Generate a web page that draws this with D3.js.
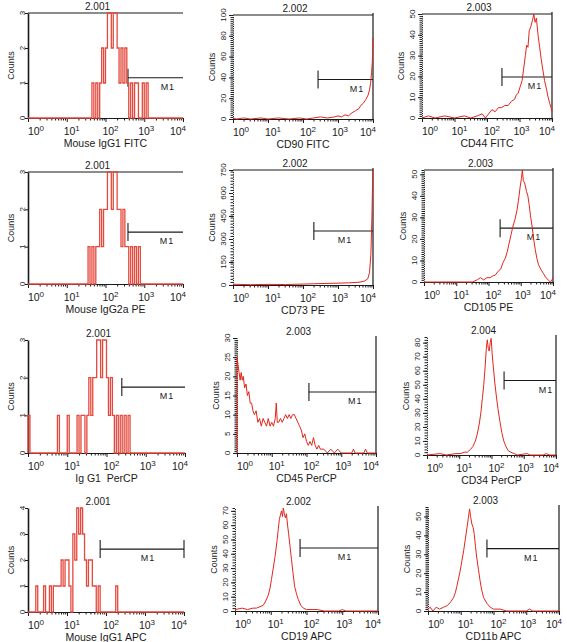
<!DOCTYPE html>
<html>
<head>
<meta charset="utf-8">
<script src="https://cdn.jsdelivr.net/npm/d3@7"></script>
<style>
  body { margin: 0; background: #fff; }
  text { font-family: "Liberation Sans", Arial, sans-serif; fill: #1a1a1a; }
</style>
</head>
<body>
<div id="chart"></div>
<script>
// panel texts (row by row)
var titles = ["2.001", "2.002", "2.003", "2.001", "2.002", "2.003",
              "2.001", "2.003", "2.004", "2.001", "2.002", "2.003"];
var xLabels = ["Mouse IgG1 FITC", "CD90 FITC", "CD44 FITC",
               "Mouse IgG2a PE", "CD73 PE", "CD105 PE",
               "Ig G1  PerCP", "CD45 PerCP", "CD34 PerCP",
               "Mouse IgG1 APC", "CD19 APC", "CD11b APC"];
var decadeLabels = ["0", "1", "2", "3", "4"];

// y axis: top of the scale, last labelled tick, step between labels
var yMax  = [3, 100, 50, 3, 750, 52, 3, 30, 84, 4, 72, 55];
var yTop  = [3, 100, 50, 3, 750, 50, 3, 30, 80, 4, 70, 50];
var yStep = [1, 20, 10, 1, 150, 10, 1, 5, 10, 1, 10, 10];

// M1 marker: start in decades, height in counts
var gateStart = [2.58, 2.43, 2.46, 2.58, 2.31, 2.36, 2.39, 2.07, 2.39, 1.85, 1.82, 1.80];
var gateLevel = [1.15, 38, 19.7, 1.39, 352, 25, 1.75, 15.9, 53, 2.42, 44, 33];

// isotype controls: counts per channel, 20 channels per decade
var CH_PER_DECADE = 20;
var isoFitcStart = 33;
var isoFitc = [1,0,1,0,1,2,1,2,3,3,2,3,3,2,1,2,1,2,1,0,1,0,1,1,0,0,1,0,1,0];
var isoPeStart = 31;
var isoPe = [1,0,1,0,1,1,2,1,2,2,3,3,2,3,3,2,2,1,2,1,1,0,1,0,1,0,1,0];
var isoPercpStart = 0;
var isoPercp = [1,0,0,0,0,0,0,0,0,0,0,0,0,0,0,
                1,0,0,0,0,
                1,0,0,0,0,
                1,0,1,1,0,1,2,1,2,2,3,3,2,3,3,2,1,2,1,0,1,0,1,0,1,0,1,0];
var isoApcStart = 0;
var isoApc = [0,0,0,0,1,0,0,0,1,0,0,1,0,1,1,1,1,2,1,2,2,1,0,3,2,4,3,4,3,2,1,2,2,1,1,0,1,
              0,0,0,0,0,0,0,0,1,0];

// stained samples: [decade, counts]
var cd90Fitc = [[0,1],[0.1,0],[0.3,1],[0.5,0],[0.8,1],[1,0],[1.3,1],[1.6,0],[1.9,1],[2.1,0],
  [2.3,1],[2.5,2],[2.7,1],[2.9,2],[3.0,3],[3.1,2],[3.2,4],[3.3,3],[3.4,6],[3.5,8],[3.6,10],
  [3.65,13],[3.72,15],[3.8,19],[3.86,23],[3.9,28],[3.93,34],[3.96,45],[3.98,55],[4.0,78]];
var cd44Fitc = [[0,0],[0.2,1],[0.4,0],[0.7,1],[1.0,0],[1.3,1],[1.5,0],[1.7,1],[1.85,2],[1.95,0],
  [2.05,2],[2.15,4],[2.25,3],[2.35,5],[2.45,5],[2.55,6],[2.65,6],[2.75,8],[2.85,9],[2.9,11],
  [2.96,12],[3.02,15],[3.08,18],[3.13,24],[3.18,30],[3.22,35],[3.26,34],[3.3,42],[3.35,44],
  [3.4,47],[3.44,50],[3.48,46],[3.52,48],[3.57,40],[3.62,34],[3.67,28],[3.72,23],[3.77,18],
  [3.83,14],[3.88,10],[3.93,7],[3.97,5],[4.0,3]];
var cd73Pe = [[0,5],[0.5,2],[1,4],[1.5,3],[2,6],[2.3,8],[2.6,10],[3,12],[3.3,14],[3.6,18],
  [3.75,25],[3.85,40],[3.9,80],[3.94,200],[3.97,450],[3.99,700],[4.0,760]];
var cd105Pe = [[0,0],[1.5,0],[1.65,1],[1.75,2],[1.85,1],[1.95,2],[2.05,2],[2.15,3],[2.2,3],
  [2.3,5],[2.38,6],[2.45,9],[2.52,11],[2.58,14],[2.64,18],[2.7,22],[2.76,26],[2.82,29],
  [2.88,33],[2.93,38],[2.98,44],[3.02,48],[3.05,52],[3.08,47],[3.12,46],[3.18,42],[3.22,40],
  [3.26,36],[3.3,31],[3.35,26],[3.4,20],[3.45,15],[3.5,11],[3.55,8],[3.62,6],[3.7,4],
  [3.78,2],[3.85,1],[3.92,0],[3.97,1],[4.0,2]];
var cd45Percp = [[0,0],[0,25],[0.03,23],[0.06,21],[0.09,19],[0.12,21],[0.15,19],[0.18,20],
  [0.22,17],[0.26,18],[0.3,15],[0.34,16],[0.38,13],[0.42,13],[0.46,11],[0.5,10],[0.55,11],
  [0.6,8],[0.65,9],[0.7,7],[0.75,9],[0.8,8],[0.85,7],[0.9,9],[0.95,7],[1.0,8],[1.05,7],
  [1.1,9],[1.13,13],[1.16,8],[1.2,8],[1.25,9],[1.3,8],[1.35,9],[1.4,10],[1.45,9],[1.5,10],
  [1.55,9],[1.6,10],[1.65,10],[1.7,9],[1.75,8],[1.8,7],[1.85,6],[1.9,4],[1.95,5],[2.0,3],
  [2.05,2],[2.1,3],[2.15,2],[2.2,4],[2.25,2],[2.3,1],[2.35,2],[2.4,1],[2.5,1],[2.6,0],
  [2.7,1],[2.8,0],[2.9,1],[3.0,0],[3.3,0],[3.35,1],[3.4,0],[3.65,0],[3.7,1],[3.75,0],[4.0,0]];
var cd34Percp = [[0,0],[0.4,1],[0.6,0],[0.9,1],[1.05,1],[1.15,2],[1.25,2],[1.35,4],[1.42,6],
  [1.5,10],[1.56,15],[1.62,22],[1.67,30],[1.72,41],[1.76,50],[1.8,62],[1.84,76],[1.87,82],
  [1.9,76],[1.93,74],[1.96,80],[1.99,83],[2.02,72],[2.06,62],[2.1,52],[2.15,42],[2.2,33],
  [2.26,24],[2.32,16],[2.38,10],[2.45,6],[2.52,3],[2.6,2],[2.7,1],[2.8,0],[3.1,1],[3.2,0],
  [3.6,0],[3.7,1],[3.8,0],[4.0,0]];
var cd19Apc = [[0,1],[0.2,2],[0.35,1],[0.5,2],[0.6,2],[0.7,3],[0.79,4],[0.86,7],[0.93,11],
  [0.98,16],[1.02,22],[1.07,30],[1.12,38],[1.15,44],[1.18,50],[1.21,57],[1.24,64],[1.27,67],
  [1.3,70],[1.33,66],[1.35,73],[1.38,68],[1.41,65],[1.44,68],[1.47,60],[1.5,54],[1.54,45],
  [1.58,36],[1.62,27],[1.67,17],[1.72,12],[1.77,8],[1.84,4],[1.91,2],[2.0,1],[2.3,1],
  [2.5,0],[2.9,0],[3.0,1],[3.1,0],[4.0,0]];
var cd11bApc = [[0,1],[0.07,2],[0.15,0],[0.25,2],[0.35,1],[0.48,2],[0.6,3],[0.7,5],[0.78,7],
  [0.84,10],[0.88,13],[0.93,17],[0.98,21],[1.03,26],[1.09,32],[1.14,38],[1.19,44],[1.23,49],
  [1.27,54],[1.3,50],[1.34,46],[1.38,44],[1.41,41],[1.45,34],[1.49,28],[1.54,22],[1.59,16],
  [1.64,11],[1.7,7],[1.8,4],[1.9,2],[2.0,1],[2.2,1],[2.4,0],[3.0,0],[3.1,1],[3.2,0],[4.0,0]];

//turn channel counts into [decade, count] steps, zero line on both sides
function isoSeries(start, counts) {
  var s = [[0, 0]];
  counts.forEach(function(c, i) { s.push([(start + i) / CH_PER_DECADE, c]); });
  s.push([(start + counts.length) / CH_PER_DECADE, 0]);
  s.push([4, 0]);
  return s;
}

var series = [isoSeries(isoFitcStart, isoFitc), cd90Fitc, cd44Fitc,
              isoSeries(isoPeStart, isoPe), cd73Pe, cd105Pe,
              isoSeries(isoPercpStart, isoPercp), cd45Percp, cd34Percp,
              isoSeries(isoApcStart, isoApc), cd19Apc, cd11bApc];

// plot boxes [left, right, top, bottom] and frame style of every panel
var layout = [
  {box: [28, 183, 13, 118],  iso: true,  top: true,  right: false, endTick: false, m1: 3.61},
  {box: [233, 373, 15, 119], iso: false, top: true,  right: true,  endTick: false, m1: 3.54},
  {box: [422, 552, 14, 118], iso: false, top: true,  right: true,  endTick: false, m1: 3.48},
  {box: [28, 183, 172, 284], iso: true,  top: true,  right: false, endTick: false, m1: 3.59},
  {box: [233, 373, 170, 285],iso: false, top: true,  right: true,  endTick: false, m1: 3.2},
  {box: [424, 553, 170, 282],iso: false, top: true,  right: true,  endTick: false, m1: 3.41},
  {box: [28, 185, 340, 453], iso: true,  top: false, right: false, endTick: false, m1: 3.54},
  {box: [237, 376, 338, 453],iso: false, top: false, right: true,  endTick: false, m1: 3.4},
  {box: [427, 556, 337, 455],iso: false, top: false, right: true,  endTick: false, m1: 3.69},
  {box: [28, 184, 508, 612], iso: true,  top: false, right: false, endTick: true,  m1: 3.08},
  {box: [235, 378, 508, 611],iso: false, top: false, right: true,  endTick: false, m1: 3.08},
  {box: [428, 559, 507, 611],iso: false, top: false, right: true,  endTick: false, m1: 3.15}
];
var labelShift = [8, 5, 5, 2, -5];

var red = "#e2261b", ink = "#1a1a1a";

var svg = d3.select("#chart").append("svg")
  .attr("width", 567)
  .attr("height", 642);

layout.forEach(function(p, i) {
  var l = p.box[0], r = p.box[1], t = p.box[2], b = p.box[3];
  var x = d3.scaleLog().domain([1, 1e4]).range([l, r]);
  var y = d3.scaleLinear().domain([0, yMax[i]]).range([b, t]).clamp(true);
  var g = svg.append("g");
  var decades = [1, 10, 100, 1000, 10000];

  // x axis, log minor ticks + decades
  var minor = x.ticks().filter(function(v) { return decades.indexOf(v) < 0; });
  g.append("g").attr("transform", "translate(0," + b + ")")
    .call(d3.axisBottom(x).tickValues(minor).tickSize(2.5).tickFormat("").tickSizeOuter(0));
  g.append("g").attr("transform", "translate(0," + b + ")")
    .call(d3.axisBottom(x).tickValues(decades).tickSize(4).tickFormat("").tickSizeOuter(0));

  decades.forEach(function(v, k) {
    var tx = g.append("text")
      .attr("x", x(v) + labelShift[k])
      .attr("y", b + 17)
      .attr("text-anchor", "middle")
      .attr("font-size", 10.5)
      .text("10");
    tx.append("tspan").attr("dy", -4.5).attr("font-size", 8).text(decadeLabels[k]);
  });

  // y axis
  var majors = d3.range(0, yTop[i] + yStep[i] / 2, yStep[i]);
  var labOff = p.iso ? 6 : 10, cntOff = p.iso ? 17 : 21;
  if (p.iso) {
    var ya = g.append("g").attr("transform", "translate(" + l + ",0)")
      .call(d3.axisLeft(y).tickValues(majors).tickSize(3).tickFormat("").tickSizeOuter(0));
    ya.select(".domain").attr("stroke-width", 1.6);
  } else {
    var ym = g.append("g").attr("transform", "translate(" + l + ",0)")
      .call(d3.axisLeft(y).tickValues(d3.ticks(0, yMax[i], 45)).tickSize(2.5).tickFormat("").tickSizeOuter(0));
    ym.select(".domain").attr("stroke-dasharray", "1.2,1");
    g.append("g").attr("transform", "translate(" + l + ",0)")
      .call(d3.axisLeft(y).tickValues(majors).tickSize(4).tickFormat("").tickSizeOuter(0))
      .select(".domain").remove();
  }
  g.selectAll(".tick line").attr("stroke", ink);
  g.selectAll(".domain").attr("stroke", ink);

  majors.forEach(function(v) {
    g.append("text")
      .attr("transform", "translate(" + (l - labOff) + "," + y(v) + ") rotate(-90)")
      .attr("text-anchor", "middle")
      .attr("dy", "0.35em")
      .attr("font-size", 8)
      .text(v);
  });
  g.append("text")
    .attr("transform", "translate(" + (l - cntOff) + "," + (t + b) / 2 + ") rotate(-90)")
    .attr("text-anchor", "middle")
    .attr("dy", "0.35em")
    .attr("font-size", 9)
    .text("Counts");

  // frame
  if (p.top) {
    g.append("line").attr("x1", l).attr("x2", r).attr("y1", t).attr("y2", t)
      .attr("stroke", ink).attr("stroke-width", 1.2);
  }
  if (p.right) {
    g.append("line").attr("x1", r).attr("x2", r).attr("y1", t - 2).attr("y2", b)
      .attr("stroke", ink).attr("stroke-width", 1.2);
  }

  // M1 marker
  var gx = x(Math.pow(10, gateStart[i])), gy = y(gateLevel[i]);
  g.append("line").attr("x1", gx).attr("x2", r).attr("y1", gy).attr("y2", gy)
    .attr("stroke", ink).attr("stroke-width", 1.1);
  g.append("line").attr("x1", gx).attr("x2", gx).attr("y1", gy - 9).attr("y2", gy + 9)
    .attr("stroke", ink).attr("stroke-width", 1.1);
  if (p.endTick) {
    g.append("line").attr("x1", r).attr("x2", r).attr("y1", gy - 9).attr("y2", gy + 9)
      .attr("stroke", ink).attr("stroke-width", 1.1);
  }
  g.append("text")
    .attr("x", x(Math.pow(10, p.m1)))
    .attr("y", gy + 9)
    .attr("dy", "0.35em")
    .attr("text-anchor", "middle")
    .attr("font-size", 9)
    .attr("letter-spacing", 1)
    .text("M1");

  // histogram
  var line = d3.line()
    .x(function(d) { return x(Math.pow(10, d[0])); })
    .y(function(d) { return y(d[1]); })
    .curve(p.iso ? d3.curveStepAfter : d3.curveLinear);
  g.append("path")
    .attr("d", line(series[i]))
    .attr("fill", "none")
    .attr("stroke", p.iso ? "#e5483c" : red)
    .attr("stroke-width", p.iso ? 1.3 : 1);

  // titles
  g.append("text")
    .attr("x", (l + r) / 2 - 8)
    .attr("y", t - 7)
    .attr("dy", "0.35em")
    .attr("text-anchor", "middle")
    .attr("font-size", 10)
    .text(titles[i]);
  g.append("text")
    .attr("x", (l + r) / 2)
    .attr("y", b + 25)
    .attr("dy", "0.35em")
    .attr("text-anchor", "middle")
    .attr("font-size", 10.5)
    .style("white-space", "pre")
    .text(xLabels[i]);
});
</script>
</body>
</html>
